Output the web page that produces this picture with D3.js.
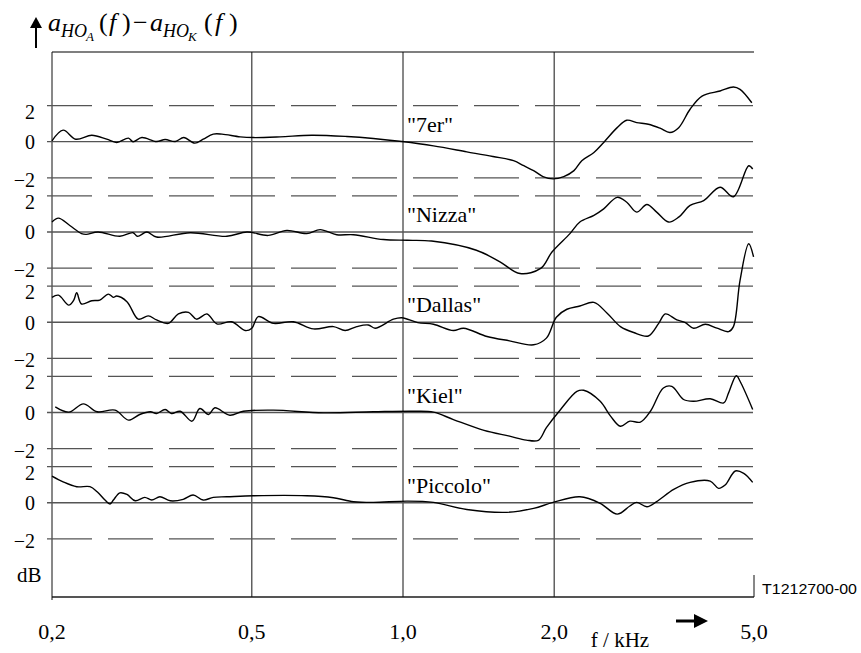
<!DOCTYPE html>
<html><head><meta charset="utf-8">
<script src="https://cdn.jsdelivr.net/npm/d3@7"></script>
<style>
html,body{margin:0;padding:0;background:#fff;}
svg{display:block;}
</style></head>
<body>
<svg id="chart" width="861" height="653"></svg>
<script>
// ---- data ----
const freqTicks = [0.2, 0.5, 1, 2, 5];
const freqTickLabels = ["0,2", "0,5", "1,0", "2,0", "5,0"];
const dbTicks = [2, 0, -2];
const dbTickLabels = ["2", "0", "\u22122"];
const seriesNames = ["\"7er\"", "\"Nizza\"", "\"Dallas\"", "\"Kiel\"", "\"Piccolo\""];
const panelOffsetDb = 5;

const f7er = [0.2,0.2105,0.223,0.240,0.257,0.269,0.284,0.290,0.302,0.323,0.336,0.352,0.366,0.385,0.400,0.419,0.436,0.474,0.504,0.569,0.658,0.773,0.873,0.995,1.15,1.34,1.51,1.66,1.74,1.82,1.90,1.99,2.09,2.19,2.27,2.40,2.51,2.67,2.79,2.92,3.08,3.25,3.40,3.54,3.73,3.94,4.28,4.55,4.69,4.95];
const db7er = [0.05,0.64,0.14,0.36,0.14,-0.04,0.20,0.0,0.23,0.01,0.12,0.01,0.23,-0.08,0.14,0.42,0.42,0.27,0.23,0.27,0.36,0.29,0.18,0.01,-0.23,-0.56,-0.82,-1.05,-1.33,-1.60,-1.93,-2.06,-1.93,-1.60,-1.05,-0.60,-0.04,0.78,1.19,1.06,0.97,0.75,0.51,0.78,1.80,2.53,2.81,3.03,2.90,2.16];

const fNizza = [0.2,0.206,0.217,0.229,0.234,0.247,0.273,0.290,0.296,0.309,0.323,0.377,0.446,0.489,0.539,0.587,0.643,0.684,0.738,0.797,0.914,1.02,1.14,1.40,1.56,1.71,1.88,1.98,2.15,2.25,2.40,2.51,2.67,2.79,2.92,3.06,3.20,3.38,3.54,3.73,3.97,4.28,4.55,4.88,4.97];
const dbNizza = [0.55,0.77,0.36,-0.09,-0.13,0.0,-0.24,-0.04,-0.24,0.0,-0.28,-0.04,-0.24,0.0,-0.19,0.09,-0.09,0.13,-0.15,-0.15,-0.42,-0.46,-0.50,-1.01,-1.66,-2.30,-2.02,-1.11,-0.09,0.55,0.92,1.28,1.92,1.65,1.10,1.52,1.10,0.55,0.82,1.47,1.74,2.48,1.95,3.67,3.49];

const fDallas = [0.2,0.206,0.216,0.221,0.224,0.229,0.240,0.249,0.259,0.265,0.269,0.282,0.297,0.311,0.323,0.341,0.357,0.374,0.388,0.407,0.426,0.456,0.485,0.500,0.515,0.552,0.605,0.663,0.727,0.767,0.809,0.853,0.880,0.957,0.995,1.07,1.15,1.26,1.32,1.47,1.63,1.82,1.93,2.02,2.12,2.25,2.40,2.55,2.71,2.88,3.08,3.23,3.33,3.51,3.65,3.79,4.00,4.22,4.45,4.55,4.69,4.88,4.99];
const dbDallas = [1.38,1.50,0.95,1.23,1.63,1.01,1.19,1.23,1.56,1.38,1.45,1.14,0.17,0.35,0.13,-0.06,0.46,0.55,0.17,0.46,-0.09,0.03,-0.46,-0.33,0.31,-0.06,0.03,-0.37,-0.24,-0.46,-0.24,-0.15,-0.33,0.17,0.25,-0.02,-0.11,-0.46,-0.33,-0.79,-1.03,-1.25,-0.88,0.28,0.72,0.90,1.10,0.50,-0.24,-0.57,-0.76,-0.06,0.46,0.13,-0.02,-0.33,-0.11,-0.33,-0.52,-0.24,2.32,4.35,3.62];

const fKiel = [0.203,0.216,0.231,0.246,0.267,0.284,0.299,0.314,0.323,0.336,0.346,0.360,0.380,0.394,0.410,0.422,0.452,0.481,0.552,0.694,0.873,1.05,1.15,1.26,1.45,1.63,1.76,1.86,1.93,2.06,2.22,2.29,2.47,2.59,2.71,2.83,2.97,3.11,3.30,3.43,3.62,3.79,4.09,4.35,4.45,4.61,4.69,4.97];
const dbKiel = [0.31,0.02,0.48,0.04,0.13,-0.42,-0.11,0.04,-0.06,0.17,-0.06,0.07,-0.48,0.22,-0.11,0.26,-0.15,0.07,0.13,-0.02,0.04,0.07,0.02,-0.39,-0.99,-1.31,-1.53,-1.54,-0.84,0.17,1.17,1.23,0.62,-0.20,-0.76,-0.48,-0.53,0.07,1.36,1.45,0.72,0.62,0.76,0.53,1.09,2.04,1.73,0.17];

const fPiccolo = [0.2,0.2105,0.224,0.238,0.246,0.255,0.261,0.265,0.273,0.282,0.293,0.306,0.316,0.328,0.344,0.365,0.382,0.400,0.419,0.446,0.504,0.643,0.727,0.797,0.873,1.02,1.15,1.34,1.61,1.82,1.99,2.25,2.47,2.67,2.83,2.92,3.06,3.20,3.46,3.73,4.09,4.25,4.38,4.59,4.77,4.97];
const dbPiccolo = [1.48,1.16,0.89,0.89,0.61,0.15,-0.07,0.15,0.55,0.46,0.11,0.30,0.15,0.33,0.11,0.19,0.43,0.15,0.30,0.33,0.39,0.39,0.28,0.06,0.02,0.09,0.02,-0.37,-0.53,-0.31,0.02,0.33,-0.03,-0.63,-0.18,0.02,-0.22,0.06,0.74,1.13,1.20,0.80,0.98,1.76,1.63,1.13];

const seriesFreq = [f7er, fNizza, fDallas, fKiel, fPiccolo];
const seriesDb = [db7er, dbNizza, dbDallas, dbKiel, dbPiccolo];

(function () {
// ---- layout ----
const svg = d3.select("#chart");
const serif = "Liberation Serif";
const x = d3.scaleLog().domain([0.2, 5]).range([52, 754]);
const y = d3.scaleLinear().domain([-25.22, 4.97]).range([597, 52]);
const xL = x(0.2), xR = x(5), yT = y.range()[1], yB = y.range()[0];
const gray = "#555";

// top border
svg.append("line").attr("x1", xL).attr("x2", xR).attr("y1", yT).attr("y2", yT)
  .attr("stroke", gray).attr("stroke-width", 1.3);
// bottom axis line
svg.append("line").attr("x1", xL).attr("x2", xR).attr("y1", yB).attr("y2", yB)
  .attr("stroke", gray).attr("stroke-width", 2);

// vertical grid lines
freqTicks.forEach((f, i) => {
  const isRight = i === freqTicks.length - 1;
  svg.append("line").attr("x1", x(f)).attr("x2", x(f))
    .attr("y1", isRight ? yB - 22 : yT).attr("y2", yB + (i === 0 ? 3 : 0))
    .attr("stroke", "#111").attr("stroke-width", 1);
});

// panel horizontal lines and labels
seriesNames.forEach((name, k) => {
  const off = -k * panelOffsetDb;
  dbTicks.forEach((t, j) => {
    const yy = y(t + off);
    const ln = svg.append("line").attr("x1", xL - 5).attr("x2", xR - 1)
      .attr("y1", yy).attr("y2", yy).attr("stroke", gray).attr("stroke-width", 1.3);
    if (t !== 0) ln.attr("stroke-dasharray", "45,16");
    const dyBase = t === 2 ? 13 : (t === 0 ? 7.5 : 9);
    svg.append("text").attr("x", 35).attr("y", yy + dyBase)
      .attr("text-anchor", "end").attr("font-family", serif).attr("font-size", 20)
      .text(dbTickLabels[j]);
  });
});

// curves
const line = d3.line().x(d => x(d[0])).y(d => y(d[1])).curve(d3.curveCatmullRom.alpha(0.5));
seriesNames.forEach((name, k) => {
  const off = -k * panelOffsetDb;
  const pts = seriesFreq[k].map((f, i) => [f, seriesDb[k][i] + off]);
  svg.append("path").attr("d", line(pts)).attr("fill", "none")
    .attr("stroke", "#000").attr("stroke-width", 1.4).attr("stroke-linejoin", "round");
  svg.append("text").attr("x", x(1) + 4).attr("y", y(off) - 10)
    .attr("font-family", serif).attr("font-size", 22).text(name);
});

// x tick labels
freqTicks.forEach((f, i) => {
  svg.append("text").attr("x", x(f)).attr("y", 639).attr("text-anchor", "middle")
    .attr("font-family", serif).attr("font-size", 22).text(freqTickLabels[i]);
});
svg.append("text").attr("x", 620).attr("y", 647).attr("text-anchor", "middle")
  .attr("font-family", serif).attr("font-size", 21).text("f / kHz");
// x arrow
svg.append("line").attr("x1", 676).attr("x2", 696).attr("y1", 621).attr("y2", 621)
  .attr("stroke", "#000").attr("stroke-width", 3);
svg.append("path").attr("d", "M694,614 L708,621 L694,628 Z").attr("fill", "#000");

// dB unit
svg.append("text").attr("x", 17).attr("y", 582).attr("font-family", serif)
  .attr("font-size", 21).text("dB");

// figure id
svg.append("text").attr("x", 762).attr("y", 594).attr("font-family", "Liberation Sans")
  .attr("font-size", 14).attr("textLength", 95).attr("lengthAdjust", "spacingAndGlyphs").text("T1212700-00");

// y arrow
svg.append("line").attr("x1", 36).attr("x2", 36).attr("y1", 24).attr("y2", 48)
  .attr("stroke", "#000").attr("stroke-width", 2);
svg.append("path").attr("d", "M30,28 L36,17 L42,28 Z").attr("fill", "#000");

// title: a_{HO_A}(f) − a_{HO_K}(f)
const title = svg.append("text").attr("font-family", serif).attr("font-size", 26);
const parts = [
  {t: "a", x: 48, y: 31, s: 26, i: true},
  {t: "HO", x: 61, y: 37, s: 18, i: true},
  {t: "A", x: 86, y: 41, s: 13, i: true},
  {t: "(", x: 99, y: 31, s: 26, i: false},
  {t: "f", x: 109, y: 31, s: 26, i: true},
  {t: ")", x: 122, y: 31, s: 26, i: false},
  {t: "\u2212", x: 133, y: 31, s: 26, i: false},
  {t: "a", x: 150, y: 31, s: 26, i: true},
  {t: "HO", x: 163, y: 37, s: 18, i: true},
  {t: "K", x: 188, y: 41, s: 13, i: true},
  {t: "(", x: 204, y: 31, s: 26, i: false},
  {t: "f", x: 215, y: 31, s: 26, i: true},
  {t: ")", x: 229, y: 31, s: 26, i: false}
];
parts.forEach(p => {
  title.append("tspan").attr("x", p.x).attr("y", p.y).attr("font-size", p.s)
    .attr("font-style", p.i ? "italic" : "normal").text(p.t);
});
})();
</script>
</body></html>
